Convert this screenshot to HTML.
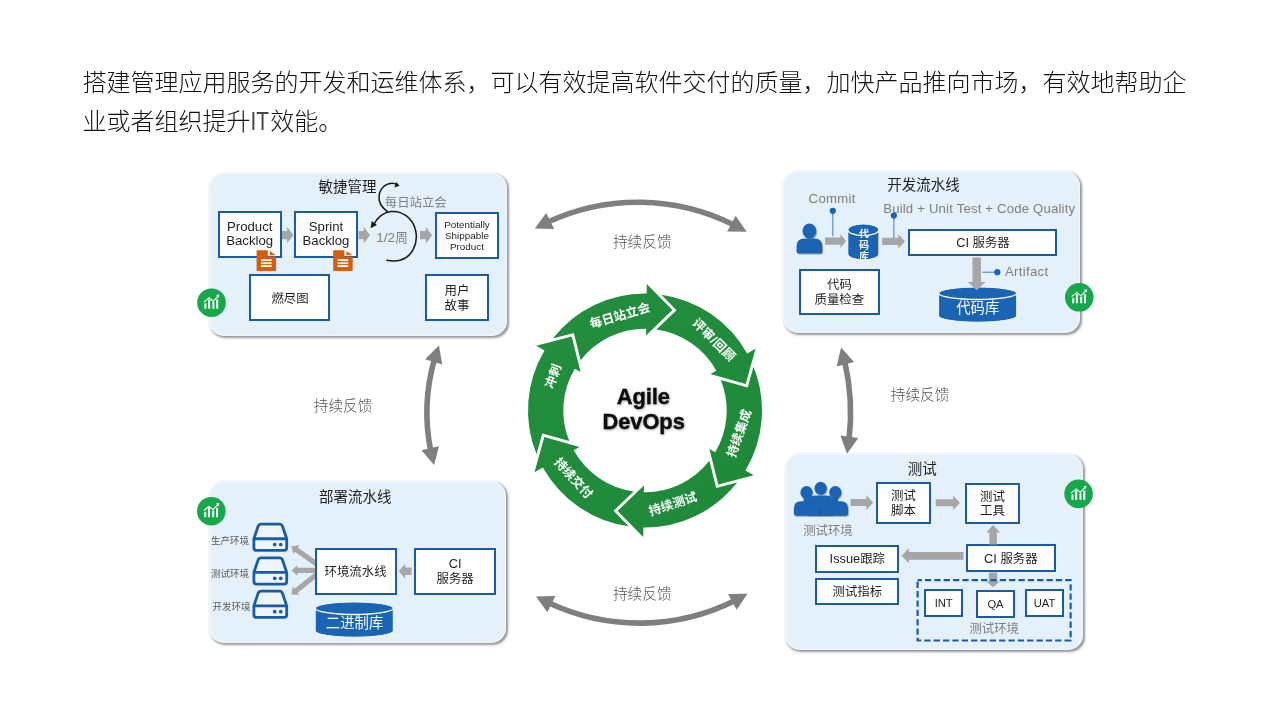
<!DOCTYPE html>
<html lang="zh-CN">
<head>
<meta charset="utf-8">
<title>Agile DevOps</title>
<style>
html,body{margin:0;padding:0;background:#fff}
body{width:1280px;height:720px;position:relative;overflow:hidden;font-family:"Liberation Sans","Noto Sans CJK SC",sans-serif}
.panel{position:absolute;background:#e4f0fa;border-radius:15px;box-shadow:1.3px 1.8px 2.2px rgba(40,50,60,.5),inset 0 0 2.5px 1px rgba(255,255,255,.65)}
.box{position:absolute;background:#fff;border:2px solid #1a5ca3;box-sizing:content-box;display:flex;align-items:center;justify-content:center;text-align:center;color:#1f1f1f}
.box.lt{font-size:13.2px;line-height:14.2px}
.box.sm{font-size:9.9px;line-height:11.1px}
.box.s11{font-size:11.2px;line-height:12px}
.lbl{position:absolute;white-space:nowrap}
#stage{position:absolute;left:0;top:0;width:1280px;height:720px;will-change:transform}
svg.ov{position:absolute;left:0;top:0;width:1280px;height:720px;font-family:"Liberation Sans","Noto Sans CJK SC",sans-serif}
</style>
</head>
<body>
<div id="stage">
<div class="panel" style="left:209px;top:173px;width:298px;height:162.5px"></div>
<div class="panel" style="left:783px;top:171px;width:296.7px;height:161.8px"></div>
<div class="panel" style="left:209.3px;top:481px;width:296.4px;height:161.7px"></div>
<div class="panel" style="left:785px;top:453.5px;width:297.5px;height:196px"></div>
<div class="box lt" style="left:217.7px;top:210.8px;width:60px;height:43px;">Product<br>Backlog</div>
<div class="box lt" style="left:294px;top:210.8px;width:60px;height:43px;">Sprint<br>Backlog</div>
<div class="box lt sm" style="left:435px;top:211.6px;width:60px;height:43.4px;">Potentially<br>Shippable<br>Product</div>
<div class="box" style="left:249.2px;top:274.4px;width:77.3px;height:42.5px;"></div>
<div class="box" style="left:425px;top:274.1px;width:60px;height:43px;"></div>
<div class="lbl" style="left:808.6px;top:191.03px;font-size:13.2px;line-height:15.84px;color:#7f7f7f;letter-spacing:0.3px;">Commit</div>
<div class="lbl" style="left:883.2px;top:200.63px;font-size:13.2px;line-height:15.84px;color:#7f7f7f;letter-spacing:0.17px;">Build + Unit Test + Code Quality</div>
<div class="lbl" style="left:1005px;top:264.43px;font-size:13.2px;line-height:15.84px;color:#7f7f7f;letter-spacing:0.3px;">Artifact</div>
<div class="box" style="left:908.4px;top:228.7px;width:145px;height:23.4px;"></div>
<div class="box" style="left:798.8px;top:268.7px;width:77.2px;height:42.3px;"></div>
<div class="box" style="left:315px;top:547.6px;width:77.7px;height:43px;"></div>
<div class="box" style="left:414.2px;top:547.6px;width:78px;height:43px;"></div>
<div class="box" style="left:876.2px;top:482.4px;width:50.4px;height:37.2px;"></div>
<div class="box" style="left:965px;top:483px;width:51px;height:36.5px;"></div>
<div class="box" style="left:965.5px;top:544.4px;width:86.5px;height:24px;"></div>
<div class="box" style="left:815.2px;top:545px;width:80.2px;height:23.6px;"></div>
<div class="box" style="left:815.2px;top:578px;width:80.2px;height:23.2px;"></div>
<div class="box lt s11" style="left:923.9px;top:588.8px;width:35.6px;height:24px;">INT</div>
<div class="box lt s11" style="left:976.3px;top:589.6px;width:34.4px;height:24.2px;">QA</div>
<div class="box lt s11" style="left:1024.9px;top:588.8px;width:35.2px;height:24px;">UAT</div>
<svg class="ov" viewBox="0 0 1280 720" width="1280" height="720">
<defs>
<filter id="ds" x="-20%" y="-20%" width="150%" height="150%"><feDropShadow dx="0.8" dy="0.9" stdDeviation="0.7" flood-color="#203040" flood-opacity="0.45"/></filter>
<filter id="rs" x="-10%" y="-10%" width="120%" height="120%"><feDropShadow dx="0" dy="0.6" stdDeviation="1.1" flood-color="#000" flood-opacity="0.28"/></filter>
<filter id="ts" x="-10%" y="-20%" width="120%" height="150%"><feDropShadow dx="0.7" dy="0.9" stdDeviation="0.8" flood-color="#000" flood-opacity="0.35"/></filter>
<linearGradient id="gg" gradientUnits="userSpaceOnUse" x1="528" y1="294" x2="762" y2="528"><stop offset="0" stop-color="#238e3e"/><stop offset="1" stop-color="#1f893a"/></linearGradient>
</defs>
<text x="82.6" y="90.72" font-size="24" font-weight="300" fill="#111">搭建管理应用服务的开发和运维体系，可以有效提高软件交付的质量，加快产品推向市场，有效地帮助企</text>
<g fill="#111"><text x="82.6" y="130.22" font-size="24" font-weight="300">业或者组织提升</text><text x="250.6" y="130.12" font-size="25.2" stroke="none" fill="#444" textLength="18.4" lengthAdjust="spacingAndGlyphs">IT</text><text x="270.2" y="130.22" font-size="24" font-weight="300">效能。</text></g>
<text x="318.4" y="191.89" font-size="14.5" fill="#1f1f1f">敏捷管理</text>
<text x="384.8" y="206.51" font-size="12.4" fill="#7f7f7f">每日站立会</text>
<g fill="#7f7f7f"><text x="376.25" y="242.17" font-size="13.6" stroke="none" textLength="18.91" lengthAdjust="spacing">1/2</text><text x="395.15" y="242.09" font-size="12.6">周</text></g>
<text x="271.4" y="302.51" font-size="12.4" fill="#1f1f1f">燃尽图</text>
<text x="444.6" y="294.91" font-size="12.4" fill="#1f1f1f">用户</text>
<text x="444.6" y="309.91" font-size="12.4" fill="#1f1f1f">故事</text>
<polygon fill="#a6a6a6" points="282,230.95 287.1,230.95 287.1,226.85 293.4,235.1 287.1,243.35 287.1,239.25 282,239.25"/>
<polygon fill="#a6a6a6" points="358.5,231.05 363.7,231.05 363.7,226.85 370,235.2 363.7,243.55 363.7,239.35 358.5,239.35"/>
<polygon fill="#a6a6a6" points="420,231.05 425.8,231.05 425.8,226.85 432.1,235.2 425.8,243.55 425.8,239.35 420,239.35"/>
<path d="M388.3 212.3 C381.5 207.5 378.2 201.5 379.1 195.5 C380.2 188 386 183.2 392 183.2 C394.2 183.2 395.8 183.8 397 184.6" fill="none" stroke="#1a1a1a" stroke-width="1.55"/>
<path d="M399.6 185.8 L394.4 187.6 L396 181.9Z" fill="#1a1a1a"/>
<path d="M373.2 225.3 C377 218 383 212.6 391 211.6 C402 210.4 413 218 415.7 231 C418.5 244 411.5 257.5 400 260.3 C395.5 261.4 390.5 261 386.3 260.3" fill="none" stroke="#1a1a1a" stroke-width="1.55"/>
<path d="M370.6 228.2 L371.7 220.9 L377 224.9Z" fill="#1a1a1a"/>
<g transform="translate(256.6 250.3)" fill="#d4600f"><path d="M0.6 0 H11.2 V6.3 H19.5 V20 Q19.5 20.6 18.9 20.6 H0.6 Q0 20.6 0 20 V0.6 Q0 0 0.6 0Z"/><path d="M13.3 0.6 L19.2 5 H13.3Z"/><rect x="4.4" y="8.9" width="10.6" height="1.8" fill="#fff"/><rect x="4.4" y="12" width="10.6" height="1.8" fill="#fff"/><rect x="4.4" y="14.9" width="10.6" height="1.8" fill="#fff"/></g>
<g transform="translate(333.2 250.3)" fill="#d4600f"><path d="M0.6 0 H11.2 V6.3 H19.5 V20 Q19.5 20.6 18.9 20.6 H0.6 Q0 20.6 0 20 V0.6 Q0 0 0.6 0Z"/><path d="M13.3 0.6 L19.2 5 H13.3Z"/><rect x="4.4" y="8.9" width="10.6" height="1.8" fill="#fff"/><rect x="4.4" y="12" width="10.6" height="1.8" fill="#fff"/><rect x="4.4" y="14.9" width="10.6" height="1.8" fill="#fff"/></g>
<g transform="translate(211.5 302.7) scale(1)"><circle r="14.3" fill="#17a84b"/><rect x="-7.1" y="0.6" width="2" height="5.4" fill="#fff"/><rect x="-3.4" y="-3.3" width="2" height="9.3" fill="#fff"/><rect x="0.9" y="-0.6" width="2" height="6.6" fill="#fff"/><rect x="4.7" y="-3.3" width="2" height="9.3" fill="#fff"/><path d="M-7.6 -0.6 L-2.4 -4.9 L1.6 -1.5 L6.6 -6.6" fill="none" stroke="#fff" stroke-width="1.1"/><path d="M4.6 -7.6 L7.9 -8.1 L7.3 -4.8 Z" fill="#fff"/></g>
<text x="887.25" y="189.81" font-size="14.5" fill="#1f1f1f">开发流水线</text>
<g fill="#1f1f1f"><text x="956.22" y="246.88" font-size="12.8" stroke="none" textLength="12.8" lengthAdjust="spacing">CI</text><text x="972.58" y="247.01" font-size="12.4">服务器</text></g>
<text x="827" y="289.21" font-size="12.4" fill="#1f1f1f">代码</text>
<text x="814.6" y="304.41" font-size="12.4" fill="#1f1f1f">质量检查</text>
<g transform="translate(809.4 223.4) scale(1)" fill="#1a64b4" filter="url(#ds)"><ellipse cx="0" cy="7.6" rx="6.9" ry="7.6"/><path d="M-12.8 28 Q-12.8 30 -10.8 30 H10.8 Q12.8 30 12.8 28 V23 Q12.8 15 5 15 H-5 Q-12.8 15 -12.8 23Z"/></g>
<polygon fill="#a6a6a6" points="825,237.5 840.5,237.5 840.5,233.9 845.9,241.1 840.5,248.3 840.5,244.7 825,244.7"/>
<polygon fill="#a6a6a6" points="882.2,237.8 898.3,237.8 898.3,234.2 905,241.4 898.3,248.6 898.3,245 882.2,245"/>
<path d="M847.8 229.8 A15.55 5.8 0 0 1 878.9 229.8 V254 A15.55 5.8 0 0 1 847.8 254 Z" fill="#1a64b4" stroke="#f4f9fe" stroke-width="1"/>
<path d="M847.8 229.8 A15.55 5.8 0 0 0 878.9 229.8" fill="none" stroke="#fff" stroke-width="1.3"/>
<clipPath id="cyc"><path d="M847.8 224 H878.9 V254 A15.55 5.8 0 0 1 847.8 254Z"/></clipPath><g clip-path="url(#cyc)">
<text x="859.1" y="236.8" font-size="10" font-weight="bold" fill="#fff">代</text>
<text x="859.1" y="248.6" font-size="10" font-weight="bold" fill="#fff">码</text>
<text x="859.1" y="260.4" font-size="10" font-weight="bold" fill="#fff">库</text>
</g>
<path d="M832.8 210.8 L832.8 236.5" stroke="#3f7fc1" stroke-width="1"/>
<circle cx="832.8" cy="210.8" r="3.1" fill="#1a64b4"/>
<path d="M893.9 215.6 L893.9 238" stroke="#3f7fc1" stroke-width="1"/>
<circle cx="893.9" cy="215.6" r="3.1" fill="#1a64b4"/>
<path d="M997.3 272.2 L982.3 272.2" stroke="#3f7fc1" stroke-width="1"/>
<circle cx="997.3" cy="272.2" r="3.1" fill="#1a64b4"/>
<path d="M938.6 293.25 A39.05 6.25 0 0 1 1016.7 293.25 V315.95 A39.05 6.25 0 0 1 938.6 315.95 Z" fill="#1a64b4" stroke="#f4f9fe" stroke-width="1"/>
<path d="M938.6 293.25 A39.05 6.25 0 0 0 1016.7 293.25" fill="none" stroke="#fff" stroke-width="1.4"/>
<polygon fill="#a6a6a6" points="972.45,257.5 972.45,282 967.85,282 976.7,290.2 985.55,282 980.95,282 980.95,257.5"/>
<text x="956.2" y="312.97" font-size="14.4" fill="#fff">代码库</text>
<g transform="translate(1079.3 297.3) scale(1)"><circle r="14.3" fill="#17a84b"/><rect x="-7.1" y="0.6" width="2" height="5.4" fill="#fff"/><rect x="-3.4" y="-3.3" width="2" height="9.3" fill="#fff"/><rect x="0.9" y="-0.6" width="2" height="6.6" fill="#fff"/><rect x="4.7" y="-3.3" width="2" height="9.3" fill="#fff"/><path d="M-7.6 -0.6 L-2.4 -4.9 L1.6 -1.5 L6.6 -6.6" fill="none" stroke="#fff" stroke-width="1.1"/><path d="M4.6 -7.6 L7.9 -8.1 L7.3 -4.8 Z" fill="#fff"/></g>
<text x="318.95" y="502.31" font-size="14.5" fill="#1f1f1f">部署流水线</text>
<g transform="translate(211.3 511.2) scale(1)"><circle r="14.3" fill="#17a84b"/><rect x="-7.1" y="0.6" width="2" height="5.4" fill="#fff"/><rect x="-3.4" y="-3.3" width="2" height="9.3" fill="#fff"/><rect x="0.9" y="-0.6" width="2" height="6.6" fill="#fff"/><rect x="4.7" y="-3.3" width="2" height="9.3" fill="#fff"/><path d="M-7.6 -0.6 L-2.4 -4.9 L1.6 -1.5 L6.6 -6.6" fill="none" stroke="#fff" stroke-width="1.1"/><path d="M4.6 -7.6 L7.9 -8.1 L7.3 -4.8 Z" fill="#fff"/></g>
<path d="M253.9 538.75 L258 526.5 Q258.8 524.1 261.3 524.1 H279.3 Q281.8 524.1 282.6 526.5 L286.7 538.75 V547.75 Q286.7 550.35 284.1 550.35 H256.5 Q253.9 550.35 253.9 547.75 Z" fill="#eef5fc" stroke="#1a5ca3" stroke-width="2.8" stroke-linejoin="round"/>
<path d="M253.9 538.75 H286.7" stroke="#1a5ca3" stroke-width="2.8"/>
<circle cx="274.7" cy="544.6" r="1.85" fill="#1a5ca3"/>
<circle cx="280.75" cy="544.6" r="1.85" fill="#1a5ca3"/>
<path d="M253.9 572.45 L258 560.2 Q258.8 557.8 261.3 557.8 H279.3 Q281.8 557.8 282.6 560.2 L286.7 572.45 V581.45 Q286.7 584.05 284.1 584.05 H256.5 Q253.9 584.05 253.9 581.45 Z" fill="#eef5fc" stroke="#1a5ca3" stroke-width="2.8" stroke-linejoin="round"/>
<path d="M253.9 572.45 H286.7" stroke="#1a5ca3" stroke-width="2.8"/>
<circle cx="274.7" cy="578.3" r="1.85" fill="#1a5ca3"/>
<circle cx="280.75" cy="578.3" r="1.85" fill="#1a5ca3"/>
<path d="M253.9 605.85 L258 593.6 Q258.8 591.2 261.3 591.2 H279.3 Q281.8 591.2 282.6 593.6 L286.7 605.85 V614.85 Q286.7 617.45 284.1 617.45 H256.5 Q253.9 617.45 253.9 614.85 Z" fill="#eef5fc" stroke="#1a5ca3" stroke-width="2.8" stroke-linejoin="round"/>
<path d="M253.9 605.85 H286.7" stroke="#1a5ca3" stroke-width="2.8"/>
<circle cx="274.7" cy="611.7" r="1.85" fill="#1a5ca3"/>
<circle cx="280.75" cy="611.7" r="1.85" fill="#1a5ca3"/>
<text x="211" y="544.21" font-size="9.5" fill="#5a5a5a">生产环境</text>
<text x="211" y="577.21" font-size="9.5" fill="#5a5a5a">测试环境</text>
<text x="212.5" y="609.61" font-size="9.5" fill="#5a5a5a">开发环境</text>
<text x="324.6" y="575.91" font-size="12.4" fill="#1f1f1f">环境流水线</text>
<g fill="#1f1f1f"><text x="448.8" y="568.08" font-size="12.8" stroke="none" textLength="12.8" lengthAdjust="spacing">CI</text></g>
<text x="436.6" y="583.41" font-size="12.4" fill="#1f1f1f">服务器</text>
<polygon fill="#a6a6a6" points="411.5,567.45 405.1,567.45 405.1,563.7 398.8,571.2 405.1,578.7 405.1,574.95 411.5,574.95"/>
<clipPath id="c3"><rect x="280" y="530" width="35" height="80"/></clipPath><g clip-path="url(#c3)">
<polygon fill="#a6a6a6" points="318,561.78 297.8,547.53 299.33,545.37 291.4,546.2 293.28,553.95 294.81,551.78 315,566.02"/>
<polygon fill="#a6a6a6" points="316.5,567.8 297.4,567.8 297.4,565.15 291.4,570.4 297.4,575.65 297.4,573 316.5,573"/>
<polygon fill="#a6a6a6" points="314.88,572.47 294.47,588.73 292.82,586.66 291.4,594.5 299.36,594.87 297.71,592.79 318.12,576.53"/>
</g>
<path d="M315.2 608.25 A39.05 6.25 0 0 1 393.3 608.25 V630.95 A39.05 6.25 0 0 1 315.2 630.95 Z" fill="#1a64b4" stroke="#f4f9fe" stroke-width="1"/>
<path d="M315.2 608.25 A39.05 6.25 0 0 0 393.3 608.25" fill="none" stroke="#fff" stroke-width="1.4"/>
<text x="325.8" y="628.27" font-size="14.4" fill="#fff">二进制库</text>
<text x="907.7" y="473.81" font-size="14.5" fill="#1f1f1f">测试</text>
<g filter="url(#ds)" fill="#1a64b4"><ellipse cx="820.6" cy="488.3" rx="6.1" ry="6.5"/><path d="M808 515.8 V503 Q808 495.5 815 495.5 H826.5 Q833.5 495.5 833.5 503 V515.8Z"/><ellipse cx="806.5" cy="492.5" rx="6.1" ry="6.5"/><ellipse cx="835.3" cy="492.5" rx="6.1" ry="6.5"/><path d="M793.9 513.6 V508.4 Q793.9 501.2 801.1 501.2 H812.2 Q819.4 501.2 819.4 508.4 V511.6 H821.5 V508.4 Q821.5 501.2 828.7 501.2 H840.8 Q848 501.2 848 508.4 V513.6 Q848 515.8 845.8 515.8 H796.1 Q793.9 515.8 793.9 513.6Z"/></g>
<path d="M803.6 497 H809.4 V502 H803.6Z M832.4 497 H838.2 V502 H832.4Z M819.4 511.2 H821.5 V515.8 H819.4Z" fill="#1a64b4"/>
<path d="M820.45 509.5 V515.6" stroke="#0d3f7a" stroke-opacity="0.45" stroke-width="0.9"/>
<text x="803.2" y="534.71" font-size="12.4" fill="#7f7f7f">测试环境</text>
<polygon fill="#a6a6a6" points="850.6,499.1 866.3,499.1 866.3,495.3 873.3,502.6 866.3,509.9 866.3,506.1 850.6,506.1"/>
<text x="891" y="500.31" font-size="12.4" fill="#1f1f1f">测试</text>
<text x="891" y="514.91" font-size="12.4" fill="#1f1f1f">脚本</text>
<polygon fill="#a6a6a6" points="935.8,499.3 953,499.3 953,495.5 960,502.8 953,510.1 953,506.3 935.8,506.3"/>
<text x="980.1" y="500.71" font-size="12.4" fill="#1f1f1f">测试</text>
<text x="980.1" y="515.31" font-size="12.4" fill="#1f1f1f">工具</text>
<polygon fill="#a6a6a6" points="996.9,544.5 996.9,532.5 1000.05,532.5 993.1,525 986.15,532.5 989.3,532.5 989.3,544.5"/>
<g fill="#1f1f1f"><text x="984.02" y="562.98" font-size="12.8" stroke="none" textLength="12.8" lengthAdjust="spacing">CI</text><text x="1000.38" y="563.11" font-size="12.4">服务器</text></g>
<polygon fill="#a6a6a6" points="963.5,551.9 908.9,551.9 908.9,548.25 901.5,555.8 908.9,563.35 908.9,559.7 963.5,559.7"/>
<g fill="#1f1f1f"><text x="829.6" y="563.28" font-size="12.8" stroke="none" textLength="30.59" lengthAdjust="spacing">Issue</text><text x="860.2" y="563.41" font-size="12.4">跟踪</text></g>
<text x="832.5" y="596.21" font-size="12.4" fill="#1f1f1f">测试指标</text>
<polygon fill="#a6a6a6" points="988.95,572.5 988.95,581.5 986.35,581.5 993.1,587.2 999.85,581.5 997.25,581.5 997.25,572.5"/>
<rect x="917.6" y="580.2" width="153" height="60.3" fill="none" stroke="#1a5ca3" stroke-width="2.2" stroke-dasharray="6.3 3.05" stroke-dashoffset="2"/>
<text x="969.4" y="633.21" font-size="12.4" fill="#7f7f7f">测试环境</text>
<g transform="translate(1078.6 493.8) scale(1)"><circle r="14.3" fill="#17a84b"/><rect x="-7.1" y="0.6" width="2" height="5.4" fill="#fff"/><rect x="-3.4" y="-3.3" width="2" height="9.3" fill="#fff"/><rect x="0.9" y="-0.6" width="2" height="6.6" fill="#fff"/><rect x="4.7" y="-3.3" width="2" height="9.3" fill="#fff"/><path d="M-7.6 -0.6 L-2.4 -4.9 L1.6 -1.5 L6.6 -6.6" fill="none" stroke="#fff" stroke-width="1.1"/><path d="M4.6 -7.6 L7.9 -8.1 L7.3 -4.8 Z" fill="#fff"/></g>
<g><path d="M552.84 338.42 A117 117 0 0 1 646.63 293.51 L646.77 283.91 L672.4 310.07 L646.05 335.51 L646.14 328.81 A81.7 81.7 0 0 0 580.61 360.21 L573.84 333.02 Z" fill="url(#gg)"/><path d="M661.35 294.65 A117 117 0 0 1 747.13 353.42 L755.51 348.74 L745.67 384.02 L710.47 373.91 L716.32 370.64 A81.7 81.7 0 0 0 656.35 329.59 L676.52 310.13 Z" fill="url(#gg)"/><path d="M753.51 366.73 A117 117 0 0 1 745.5 470.41 L753.74 475.32 L718.27 484.45 L709.42 448.9 L715.18 452.33 A81.7 81.7 0 0 0 720.74 379.88 L747.68 387.61 Z" fill="url(#gg)"/><path d="M737.16 482.58 A117 117 0 0 1 643.37 527.49 L643.23 537.09 L617.6 510.93 L643.95 485.49 L643.86 492.19 A81.7 81.7 0 0 0 709.39 460.79 L716.16 487.98 Z" fill="url(#gg)"/><path d="M628.65 526.35 A117 117 0 0 1 542.87 467.58 L534.49 472.26 L544.33 436.98 L579.53 447.09 L573.68 450.36 A81.7 81.7 0 0 0 633.65 491.41 L613.48 510.87 Z" fill="url(#gg)"/><path d="M536.49 454.27 A117 117 0 0 1 544.5 350.59 L536.26 345.68 L571.73 336.55 L580.58 372.1 L574.82 368.67 A81.7 81.7 0 0 0 569.26 441.12 L542.32 433.39 Z" fill="url(#gg)"/></g>
<text x="588.6" y="319.86" font-size="12.45" font-weight="bold" fill="#fff" transform="rotate(-16.5 619.9 315)">每日站立会</text>
<text x="687.02" y="344.46" font-size="12.45" font-weight="bold" fill="#fff" textLength="54.41" lengthAdjust="spacing" transform="rotate(45 714.4 339.6)">评审/回顾</text>
<text x="713.62" y="437.76" font-size="12.45" font-weight="bold" fill="#fff" transform="rotate(-70.5 738.7 432.9)">持续集成</text>
<text x="647.82" y="508.26" font-size="12.45" font-weight="bold" fill="#fff" transform="rotate(-18 672.9 503.4)">持续测试</text>
<text x="548.92" y="482.76" font-size="12.45" font-weight="bold" fill="#fff" transform="rotate(47.5 574 477.9)">持续交付</text>
<text x="540.08" y="380.76" font-size="12.45" font-weight="bold" fill="#fff" transform="rotate(-70.5 552.7 375.9)">冲刺</text>
<g filter="url(#ts)"><text x="643.3" y="403.8" font-size="21.8" font-weight="bold" text-anchor="middle" fill="#0a0a0a" stroke="#0a0a0a" stroke-width="0.35">Agile</text><text x="643.6" y="428.5" font-size="21.8" font-weight="bold" text-anchor="middle" fill="#0a0a0a" stroke="#0a0a0a" stroke-width="0.35">DevOps</text></g>
<path d="M547.85 222.01 A214.31 214.31 0 0 1 733.76 224.82" fill="none" stroke="#7f7f7f" stroke-width="5.6"/>
<polygon fill="#7f7f7f" points="534.8,228.6 546.19,212.88 554.21,229"/>
<polygon fill="#7f7f7f" points="746.6,231.8 727.19,231.61 735.69,215.74"/>
<path d="M549.02 603.03 A213.73 213.73 0 0 0 734.64 600.75" fill="none" stroke="#7f7f7f" stroke-width="5.6"/>
<polygon fill="#7f7f7f" points="536,596.4 555.41,596.07 547.34,612.16"/>
<polygon fill="#7f7f7f" points="747.5,593.8 736.55,609.83 728.09,593.95"/>
<path d="M434.38 359.4 A195.22 195.22 0 0 0 430.71 450.88" fill="none" stroke="#7f7f7f" stroke-width="5.6"/>
<polygon fill="#7f7f7f" points="438.9,345.5 442.27,364.62 425.11,359.17"/>
<polygon fill="#7f7f7f" points="434.1,465.1 421.45,450.37 438.99,446.31"/>
<path d="M844.8 361.74 A230.76 230.76 0 0 1 849.11 439.24" fill="none" stroke="#7f7f7f" stroke-width="5.6"/>
<polygon fill="#7f7f7f" points="841.1,347.6 854.08,362.03 836.65,366.49"/>
<polygon fill="#7f7f7f" points="847,453.7 840.48,435.42 858.3,437.92"/>
<text x="612.9" y="247.16" font-size="14.7" font-weight="300" fill="#555">持续反馈</text>
<text x="612.9" y="599.06" font-size="14.7" font-weight="300" fill="#555">持续反馈</text>
<text x="313.7" y="411.16" font-size="14.7" font-weight="300" fill="#555">持续反馈</text>
<text x="890.7" y="399.56" font-size="14.7" font-weight="300" fill="#555">持续反馈</text>
</svg>
</div>
</body>
</html>
